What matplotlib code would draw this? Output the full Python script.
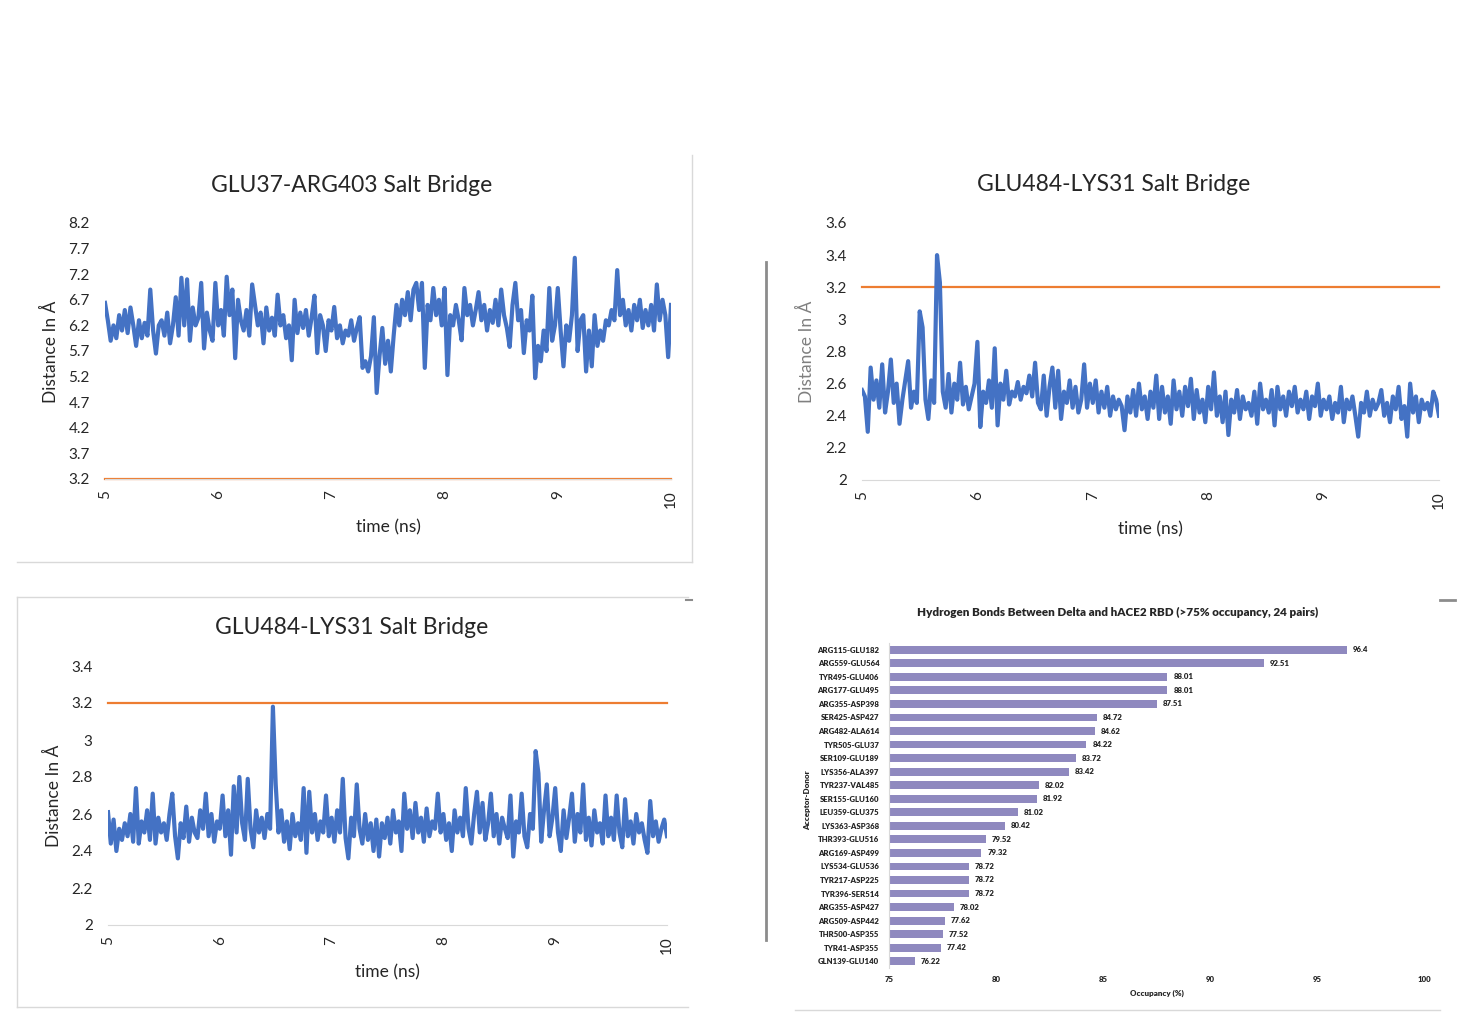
import numpy as np
import matplotlib
matplotlib.use("Agg")
import matplotlib.pyplot as plt
from matplotlib.lines import Line2D

W, H = 1468, 1034
plt.rcParams['font.family'] = ['Lato', 'DejaVu Sans']

# ---- salt bridge distances, t = 5..10 ns step 0.025 ----
glu37_arg403 = [
    6.64, 6.3, 5.9, 6.2, 5.95, 6.4, 6.1, 6.5, 6.05, 6.55, 6.2, 5.8, 6.3, 5.95, 6.25, 6.0, 6.9, 6.1, 5.65, 6.2,
    6.3, 6.0, 6.45, 5.85, 6.2, 6.75, 6.0, 7.13, 6.2, 7.1, 5.9, 6.55, 6.2, 6.35, 7.03, 5.75, 6.45, 6.1, 5.9, 7.03,
    6.2, 6.5, 6.0, 7.15, 6.4, 6.9, 5.56, 6.7, 6.3, 6.1, 6.5, 6.0, 7.0, 6.6, 6.2, 6.45, 5.85, 6.55, 6.1, 6.35,
    6.0, 6.8, 6.2, 6.4, 5.95, 6.2, 5.52, 6.7, 6.05, 6.45, 6.15, 6.5, 6.0, 6.35, 6.78, 5.66, 6.4, 6.2, 5.7, 6.3,
    6.1, 6.56, 5.95, 6.2, 5.85, 6.1, 6.0, 6.3, 5.9, 6.15, 6.36, 5.37, 5.5, 5.3, 5.6, 6.36, 4.88, 5.6, 6.15, 5.45,
    5.9, 5.3, 6.0, 6.6, 6.2, 6.7, 6.4, 6.85, 6.3, 6.9, 7.03, 6.5, 7.03, 5.37, 6.6, 6.3, 6.93, 6.4, 6.7, 6.2,
    6.93, 5.23, 6.4, 6.2, 6.6, 6.3, 5.91, 6.93, 6.4, 6.6, 6.2, 6.5, 6.85, 6.3, 6.6, 6.1, 6.5, 6.25, 6.7, 6.2,
    6.9, 6.4, 6.15, 5.78, 6.6, 7.03, 6.3, 6.5, 5.66, 6.3, 6.1, 6.78, 5.17, 5.8, 5.5, 6.1, 5.7, 6.93, 5.9, 6.2,
    6.93, 6.1, 5.4, 6.2, 5.9, 6.4, 7.52, 5.7, 6.3, 6.4, 5.3, 6.1, 5.4, 6.4, 5.8, 6.1, 5.9, 6.3, 6.2, 6.5,
    6.3, 7.28, 6.4, 6.7, 6.2, 6.5, 6.1, 6.6, 6.3, 6.7, 6.15, 6.5, 6.2, 6.6, 6.1, 7.0, 6.3, 6.7, 6.4, 5.58,
    6.6,
]
glu484_lys31_a = [
    2.56, 2.52, 2.30, 2.70, 2.50, 2.62, 2.45, 2.72, 2.42, 2.55, 2.75, 2.48, 2.60, 2.35, 2.50, 2.62, 2.74, 2.45, 2.55, 2.48,
    3.05, 2.95, 2.50, 2.38, 2.62, 2.48, 3.40, 3.23, 2.55, 2.45, 2.66, 2.42, 2.60, 2.50, 2.73, 2.47, 2.58, 2.44, 2.52, 2.60,
    2.86, 2.33, 2.55, 2.48, 2.62, 2.45, 2.82, 2.34, 2.60, 2.50, 2.68, 2.47, 2.55, 2.52, 2.61, 2.50, 2.58, 2.54, 2.65, 2.52,
    2.73, 2.48, 2.44, 2.65, 2.40, 2.58, 2.70, 2.45, 2.68, 2.38, 2.55, 2.48, 2.62, 2.45, 2.58, 2.42, 2.50, 2.72, 2.45, 2.60,
    2.48, 2.62, 2.42, 2.55, 2.45, 2.58, 2.40, 2.52, 2.44, 2.50, 2.46, 2.31, 2.52, 2.42, 2.56, 2.40, 2.60, 2.44, 2.52, 2.38,
    2.55, 2.45, 2.65, 2.38, 2.58, 2.42, 2.52, 2.35, 2.62, 2.44, 2.55, 2.40, 2.58, 2.46, 2.63, 2.38, 2.56, 2.42, 2.50, 2.36,
    2.58, 2.44, 2.67, 2.40, 2.52, 2.36, 2.55, 2.28, 2.50, 2.42, 2.56, 2.38, 2.52, 2.44, 2.48, 2.40, 2.55, 2.35, 2.60, 2.44,
    2.50, 2.42, 2.56, 2.34, 2.58, 2.44, 2.52, 2.40, 2.55, 2.46, 2.58, 2.42, 2.50, 2.44, 2.55, 2.38, 2.52, 2.46, 2.60, 2.40,
    2.50, 2.44, 2.52, 2.38, 2.48, 2.42, 2.58, 2.36, 2.50, 2.44, 2.52, 2.40, 2.27, 2.48, 2.42, 2.55, 2.40, 2.50, 2.44, 2.48,
    2.56, 2.40, 2.48, 2.36, 2.52, 2.44, 2.58, 2.38, 2.46, 2.27, 2.60, 2.42, 2.52, 2.36, 2.50, 2.44, 2.48, 2.40, 2.55, 2.50,
    2.40,
]
glu484_lys31_b = [
    2.61, 2.44, 2.57, 2.40, 2.52, 2.46, 2.55, 2.48, 2.60, 2.45, 2.74, 2.44, 2.56, 2.50, 2.62, 2.46, 2.71, 2.44, 2.58, 2.50,
    2.55, 2.46, 2.60, 2.71, 2.48, 2.36, 2.55, 2.47, 2.64, 2.45, 2.58, 2.50, 2.47, 2.62, 2.52, 2.71, 2.48, 2.60, 2.45, 2.56,
    2.52, 2.70, 2.48, 2.62, 2.38, 2.75, 2.50, 2.80, 2.55, 2.46, 2.79, 2.52, 2.42, 2.62, 2.50, 2.58, 2.47, 2.60, 2.52, 3.18,
    2.76, 2.50, 2.62, 2.45, 2.56, 2.41, 2.60, 2.48, 2.55, 2.46, 2.74, 2.39, 2.72, 2.50, 2.60, 2.46, 2.56, 2.50, 2.70, 2.48,
    2.58, 2.45, 2.62, 2.50, 2.79, 2.47, 2.36, 2.58, 2.48, 2.76, 2.52, 2.44, 2.60, 2.46, 2.55, 2.40, 2.57, 2.37, 2.55, 2.47,
    2.58, 2.44, 2.62, 2.50, 2.56, 2.40, 2.71, 2.52, 2.62, 2.47, 2.66, 2.50, 2.58, 2.45, 2.63, 2.48, 2.56, 2.52, 2.71, 2.50,
    2.60, 2.46, 2.55, 2.40, 2.62, 2.50, 2.58, 2.48, 2.74, 2.52, 2.44, 2.60, 2.72, 2.50, 2.66, 2.46, 2.55, 2.71, 2.48, 2.60,
    2.44, 2.58, 2.52, 2.47, 2.70, 2.37, 2.56, 2.50, 2.71, 2.48, 2.42, 2.60, 2.52, 2.94, 2.82, 2.45, 2.62, 2.76, 2.48, 2.58,
    2.74, 2.50, 2.40, 2.62, 2.47, 2.58, 2.71, 2.45, 2.60, 2.50, 2.76, 2.46, 2.58, 2.43, 2.62, 2.50, 2.55, 2.44, 2.70, 2.48,
    2.58, 2.46, 2.70, 2.50, 2.42, 2.68, 2.48, 2.56, 2.44, 2.60, 2.50, 2.55, 2.46, 2.39, 2.67, 2.48, 2.56, 2.45, 2.52, 2.57,
    2.48,
]
time_ns = np.linspace(5, 10, len(glu37_arg403))
cutoff = 3.2

# ---- hydrogen bond occupancy ----
pairs = ["ARG115-GLU182", "ARG559-GLU564", "TYR495-GLU406", "ARG177-GLU495", "ARG355-ASP398",
         "SER425-ASP427", "ARG482-ALA614", "TYR505-GLU37", "SER109-GLU189", "LYS356-ALA397",
         "TYR237-VAL485", "SER155-GLU160", "LEU359-GLU375", "LYS363-ASP368", "THR393-GLU516",
         "ARG169-ASP499", "LYS534-GLU536", "TYR217-ASP225", "TYR396-SER514", "ARG355-ASP427",
         "ARG509-ASP442", "THR500-ASP355", "TYR41-ASP355", "GLN139-GLU140"]
occupancy = [96.4, 92.51, 88.01, 88.01, 87.51, 84.72, 84.62, 84.22, 83.72, 83.42,
             82.02, 81.92, 81.02, 80.42, 79.52, 79.32, 78.72, 78.72, 78.72, 78.02,
             77.62, 77.52, 77.42, 76.22]

BLUE = "#4472C4"
ORANGE = "#ED7D31"
BAR = "#8F89BF"
GRID = "#D9D9D9"
TXT = "#262626"

fig = plt.figure(figsize=(W / 100, H / 100), dpi=100)


def box(x0, y0, x1, y1):
    return [x0 / W, 1 - y1 / H, (x1 - x0) / W, (y1 - y0) / H]


def fx(x):
    return x / W


def fy(y):
    return 1 - y / H


def line_px(x0, y0, x1, y1, color=GRID, lw=1.0):
    fig.add_artist(Line2D([fx(x0), fx(x1)], [fy(y0), fy(y1)], color=color, lw=lw))


def salt_panel(rect, y, ylim, yticks, ylabels, title, title_xy, xlabel_xy, ylabel_xy, ylabel_color):
    ax = fig.add_axes(box(*rect))
    ax.plot(time_ns, y, color=BLUE, lw=3.0, solid_joinstyle="round", zorder=3)
    ax.plot([5, 10], [cutoff, cutoff], color=ORANGE, lw=1.6, clip_on=False, zorder=2)
    ax.set_xlim(5, 10)
    ax.set_ylim(*ylim)
    ax.set_yticks(yticks)
    ax.set_yticklabels(ylabels)
    ax.set_xticks([5, 6, 7, 8, 9, 10])
    ax.set_xticklabels(["5", "6", "7", "8", "9", "10"], rotation=90)
    for s in ["top", "right", "left"]:
        ax.spines[s].set_visible(False)
    ax.spines["bottom"].set_color(GRID)
    ax.tick_params(length=0, labelsize=11, colors=TXT)
    ax.tick_params(axis="y", pad=11)
    ax.tick_params(axis="x", pad=8)
    fig.text(fx(title_xy[0]), fy(title_xy[1]), title, ha="center", va="center", fontsize=16.5, color=TXT)
    fig.text(fx(xlabel_xy[0]), fy(xlabel_xy[1]), "time (ns)", ha="center", va="center", fontsize=12.5, color=TXT)
    fig.text(fx(ylabel_xy[0]), fy(ylabel_xy[1]), "Distance In Å", ha="center", va="center",
             rotation=90, fontsize=12.5, color=ylabel_color)
    return ax


t1 = [3.2, 3.7, 4.2, 4.7, 5.2, 5.7, 6.2, 6.7, 7.2, 7.7, 8.2]
salt_panel((105, 223, 671, 479), glu37_arg403, (3.2, 8.2), t1, [f"{v:.1f}" for v in t1],
           "GLU37-ARG403 Salt Bridge", (352, 186), (388, 527), (50, 352), TXT)

t2 = [2.0, 2.2, 2.4, 2.6, 2.8, 3.0, 3.2, 3.4, 3.6]
l2 = ["2", "2.2", "2.4", "2.6", "2.8", "3", "3.2", "3.4", "3.6"]
salt_panel((862, 223, 1439, 480), glu484_lys31_a, (2.0, 3.6), t2, l2,
           "GLU484-LYS31 Salt Bridge", (1114, 185), (1150, 529), (806, 352), "#7F7F7F")

t3 = [2.0, 2.2, 2.4, 2.6, 2.8, 3.0, 3.2, 3.4]
salt_panel((108, 666, 667, 925), glu484_lys31_b, (2.0, 3.4), t3, l2[:8],
           "GLU484-LYS31 Salt Bridge", (352, 628), (387, 972), (53, 796), TXT)

# ---- bar chart ----
bx = fig.add_axes(box(889, 643, 1424, 968))
ypos = np.arange(len(pairs))
left = 75
bx.barh(ypos, [v - left for v in occupancy], left=left, height=0.58, color=BAR, zorder=2)
for yy, v in zip(ypos, occupancy):
    bx.text(v + 0.28, yy, f"{v:g}", va="center", ha="left", fontsize=5.6, fontweight="heavy", color=TXT)
bx.set_xlim(75, 100)
bx.set_ylim(len(pairs) - 0.5, -0.5)
bx.set_yticks(ypos)
bx.set_yticklabels(pairs)
bx.set_xticks([75, 80, 85, 90, 95, 100])
for s in ["top", "right", "bottom"]:
    bx.spines[s].set_visible(False)
bx.spines["left"].set_color(GRID)
bx.tick_params(length=0, labelsize=5.6, colors=TXT)
bx.tick_params(axis="y", pad=7)
bx.tick_params(axis="x", pad=6)
for lab in bx.get_yticklabels() + bx.get_xticklabels():
    lab.set_fontweight("heavy")
fig.text(fx(1118), fy(612), "Hydrogen Bonds Between Delta and hACE2 RBD (>75% occupancy, 24 pairs)",
         ha="center", va="center", fontsize=8.4, fontweight="heavy", color=TXT)
fig.text(fx(1157), fy(993), "Occupancy (%)", ha="center", va="center", fontsize=5.8, fontweight="heavy", color=TXT)
fig.text(fx(808), fy(800), "Acceptor-Donor", ha="center", va="center", rotation=90,
         fontsize=5.8, fontweight="heavy", color=TXT)

# ---- panel borders / separators ----
line_px(692, 155, 692, 562)
line_px(17, 562, 692, 562)
line_px(17, 597, 17, 1007)
line_px(17, 597, 688, 597)
line_px(17, 1007, 688, 1007)
line_px(795, 1010, 1440, 1010)
line_px(766, 262, 766, 940, color="#8C8C8C", lw=2.0)
line_px(686, 600, 692, 600, color="#8C8C8C", lw=1.5)
line_px(1440, 600, 1455, 600, color="#8C8C8C", lw=2.0)

fig.savefig("out.png", dpi=100, facecolor="white")
